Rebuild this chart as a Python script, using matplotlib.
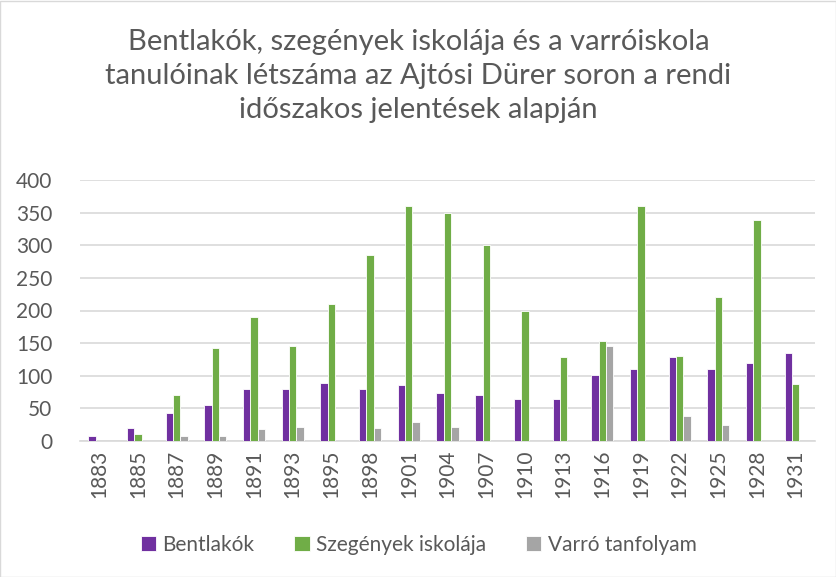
import matplotlib.pyplot as plt
import numpy as np
from matplotlib.patches import Rectangle

# Adatok
evek = ['1883', '1885', '1887', '1889', '1891', '1893', '1895', '1898', '1901', '1904',
        '1907', '1910', '1913', '1916', '1919', '1922', '1925', '1928', '1931']
bentlakok = [7, 20, 43, 55, 80, 80, 89, 79, 86, 73, 70, 64, 64, 101, 110, 129, 110, 120, 135]
szegenyek = [0, 11, 70, 142, 190, 145, 210, 285, 360, 350, 300, 200, 129, 153, 360, 131, 220, 339, 87]
varro = [0, 0, 8, 8, 19, 21, 0, 20, 29, 21, 0, 0, 0, 146, 0, 39, 24, 0, 0]

plt.rcParams['font.family'] = ['Lato', 'DejaVu Sans']

fig = plt.figure(figsize=(8.37, 5.77), dpi=100)
ax = fig.add_axes([80 / 837, 1 - 441 / 577, 735 / 837, 261 / 577])

x = np.arange(len(evek))
w = 0.19
ax.bar(x - w, bentlakok, w, color='#7030A0', edgecolor='white', linewidth=0.6, label='Bentlakók', zorder=3)
ax.bar(x, szegenyek, w, color='#70AD47', edgecolor='white', linewidth=0.6, label='Szegények iskolája', zorder=3)
ax.bar(x + w, varro, w, color='#A5A5A5', edgecolor='white', linewidth=0.6, label='Varró tanfolyam', zorder=3)

ax.set_xlim(-0.5, len(evek) - 0.5)
ax.set_ylim(0, 400)
ax.set_yticks(range(0, 401, 50))
ax.set_xticks(x)
ax.set_xticklabels(evek, rotation=90)
ax.tick_params(axis='both', length=0, labelsize=15, colors='#595959')
ax.tick_params(axis='y', pad=20)
ax.tick_params(axis='x', pad=6)
ax.grid(axis='y', color='#D9D9D9', linewidth=1.2, zorder=0)
for s in ['top', 'right', 'left']:
    ax.spines[s].set_visible(False)
ax.spines['bottom'].set_color('#D9D9D9')
ax.spines['bottom'].set_linewidth(1.2)

fig.text(0.5, 1 - 76 / 577,
         'Bentlakók, szegények iskolája és a varróiskola\n'
         'tanulóinak létszáma az Ajtósi Dürer soron a rendi\n'
         'időszakos jelentések alapján',
         ha='center', va='center', fontsize=21, color='#595959', linespacing=1.4)

fig.legend(loc='center', bbox_to_anchor=(0.5, 1 - 545 / 577), ncol=3, frameon=False,
           fontsize=15, labelcolor='#595959', handlelength=0.75, handleheight=0.75,
           handletextpad=0.3, columnspacing=1.9)

fig.patches.append(Rectangle((0.5 / 837, 0.5 / 577), 1 - 1.5 / 837, 1 - 1.5 / 577,
                             transform=fig.transFigure, fill=False, edgecolor='#D9D9D9', linewidth=1))

fig.savefig('out.png', dpi=100, facecolor='white')
